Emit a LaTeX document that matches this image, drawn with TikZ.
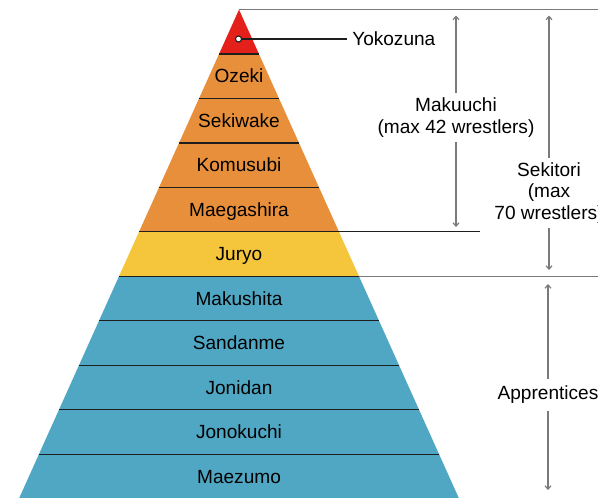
\documentclass[tikz,border=0pt]{standalone}
\usepackage{fontspec}
\setmainfont{Liberation Sans}
\usetikzlibrary{arrows.meta}
\definecolor{cRed}{HTML}{E3211A}
\definecolor{cOrange}{HTML}{E88F3B}
\definecolor{cYellow}{HTML}{F5C63C}
\definecolor{cBlue}{HTML}{50A7C3}
\definecolor{cGray}{HTML}{7A7A7A}
\definecolor{cDark}{HTML}{1E1E1E}
\begin{document}
\begin{tikzpicture}[x=0.75pt,y=-0.75pt,
  lbl/.style={font=\fontsize{14.3}{16.5}\selectfont, text=black, inner sep=0pt, text height=10pt, text depth=0pt},
  side/.style={font=\fontsize{14.3}{16.2}\selectfont, text=black, inner sep=0pt, align=center},
  sepline/.style={draw=cDark, line width=0.9pt},
  guide/.style={draw=cGray, line width=1pt},
  arr/.style={draw=cGray, line width=0.9pt, -{Straight Barb[length=2.5pt,width=4.5pt]}},
]
\useasboundingbox (0,0) rectangle (598,497);
\clip (0,0) rectangle (598,497);
% bands
\foreach \k/\col in {0/cRed,1/cOrange,2/cOrange,3/cOrange,4/cOrange,5/cYellow,6/cBlue,7/cBlue,8/cBlue,9/cBlue,10/cBlue}{
  \pgfmathsetmacro\yt{9.6+44.45*\k}
  \pgfmathsetmacro\yb{\yt+44.45}
  \pgfmathsetmacro\ht{0.45*(\yt-9.6)}
  \pgfmathsetmacro\hb{0.45*(\yb-9.6)}
  \fill[\col] (239-\ht,\yt) -- (239+\ht,\yt) -- (239+\hb,\yb) -- (239-\hb,\yb) -- cycle;
}
% separators
\foreach \k in {1,2,3,4,6,7,8,9,10}{
  \pgfmathsetmacro\yy{9.6+44.45*\k}
  \pgfmathsetmacro\hh{0.45*(\yy-9.6)}
  \draw[sepline] (239-\hh,\yy) -- (239+\hh,\yy);
}
\pgfmathsetmacro\yf{9.6+44.45*5}
\pgfmathsetmacro\hf{0.45*(\yf-9.6)}
\draw[sepline] (239-\hf,\yf) -- (480,\yf);
\pgfmathsetmacro\ys{9.6+44.45*6}
\pgfmathsetmacro\hs{0.45*(\ys-9.6)}
\draw[guide] (239+\hs,\ys) -- (598,\ys);
\draw[guide] (239,9.8) -- (598,9.8);
% band labels
\foreach \k/\t/\nm in {1/Ozeki/oz,2/Sekiwake/sk,3/Komusubi/ko,4/Maegashira/mg,5/Juryo/ju,6/Makushita/ms,7/Sandanme/sd,8/Jonidan/jd,9/Jonokuchi/jk,10/Maezumo/mz}{
  \pgfmathsetmacro\yc{9.6+44.45*(\k+0.5)}
  \node[lbl] (\nm) at (239,\yc) {\t};
}
% Yokozuna
\node[circle, draw=cDark, fill=white, line width=0.8pt, minimum size=4.5pt, inner sep=0pt] (yk) at (238.5,39) {};
\node[lbl, anchor=west, inner xsep=3.75pt] (ykl) at (347,39) {Yokozuna};
\draw[draw=cDark, line width=0.9pt] (yk) -- (ykl.west);
% Makuuchi
\node[side, minimum height=36.75pt] (mk) at (456,117.5) {Makuuchi\\(max 42 wrestlers)};
\coordinate (mkT) at (456,15.5);
\coordinate (mkB) at (456,227);
\draw[arr] (mk.north) -- (mkT);
\draw[arr] (mk.south) -- (mkB);
% Sekitori
\node[side, minimum height=52.5pt] (st) at (549,193) {Sekitori\\(max\\70 wrestlers)};
\coordinate (stT) at (549,15.5);
\coordinate (stB) at (549,270);
\draw[arr] (st.north) -- (stT);
\draw[arr] (st.south) -- (stB);
% Apprentices
\node[side, minimum height=24pt] (ap) at (548,395) {Apprentices};
\coordinate (apT) at (548,284);
\coordinate (apB) at (548,490);
\draw[arr] (ap.north) -- (apT);
\draw[arr] (ap.south) -- (apB);
\end{tikzpicture}
\end{document}
